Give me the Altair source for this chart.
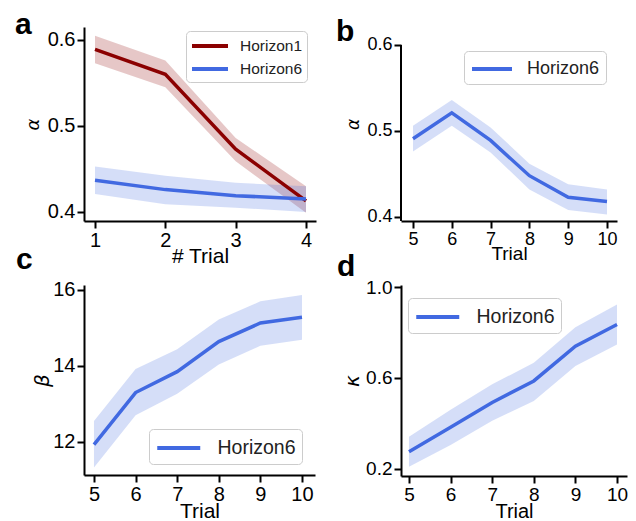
import altair as alt
import pandas as pd

# ---------------- data ----------------
trials_a = [1, 2, 3, 4]
h1_mean = [0.589, 0.560, 0.473, 0.413]
h1_lo = [0.573, 0.545, 0.459, 0.399]
h1_hi = [0.605, 0.576, 0.486, 0.430]
h6a_mean = [0.437, 0.426, 0.419, 0.415]
h6a_lo = [0.421, 0.409, 0.405, 0.400]
h6a_hi = [0.453, 0.442, 0.434, 0.430]

trials_b = [5, 6, 7, 8, 9, 10]
alpha_mean = [0.491, 0.521, 0.489, 0.448, 0.423, 0.418]
alpha_lo = [0.476, 0.506, 0.475, 0.432, 0.408, 0.403]
alpha_hi = [0.506, 0.536, 0.504, 0.462, 0.438, 0.432]

beta_mean = [11.93, 13.30, 13.85, 14.64, 15.13, 15.28]
beta_lo = [11.33, 12.70, 13.27, 14.04, 14.53, 14.69]
beta_hi = [12.55, 13.92, 14.44, 15.22, 15.70, 15.87]

kappa_mean = [0.276, 0.383, 0.492, 0.587, 0.740, 0.835]
kappa_lo = [0.210, 0.305, 0.412, 0.499, 0.653, 0.747]
kappa_hi = [0.342, 0.460, 0.572, 0.667, 0.823, 0.923]

RED = "#8b0000"
BLUE = "#4169e1"
FONT = "Liberation Sans"
LEG_PATH = "M-1,0H3"   # horizontal legend line, 2x the entry width


def frame(trials, mean, lo, hi, series):
    return pd.DataFrame({"trial": trials, "mean": mean, "lo": lo, "hi": hi,
                         "series": series})


df_a = pd.concat([
    frame(trials_a, h1_mean, h1_lo, h1_hi, "Horizon1"),
    frame(trials_a, h6a_mean, h6a_lo, h6a_hi, "Horizon6"),
])
df_b = frame(trials_b, alpha_mean, alpha_lo, alpha_hi, "Horizon6")
df_c = frame(trials_b, beta_mean, beta_lo, beta_hi, "Horizon6")
df_d = frame(trials_b, kappa_mean, kappa_lo, kappa_hi, "Horizon6")


def panel(df, domain, rng, xdom, xticks, xtitle, ydom, yticks, yfmt, ytitle,
          w, h, tick_fs, xtitle_fs, xtitle_pad, ytitle_fs, ytitle_pad,
          leg, letter, letter_xy, hide_ydomain=False):
    xs = alt.Scale(domain=xdom, nice=False, zero=False)
    ys = alt.Scale(domain=ydom, nice=False, zero=False)
    xaxis = alt.Axis(values=xticks, format="d", title=xtitle, grid=False,
                     labelFont=FONT, labelFontSize=tick_fs, labelColor="black",
                     labelPadding=2, tickSize=7, tickWidth=2, tickColor="black",
                     domainColor="black", domainWidth=2,
                     titleFont=FONT, titleFontSize=xtitle_fs, titleFontWeight="normal",
                     titleColor="black", titlePadding=xtitle_pad)
    yaxis = alt.Axis(values=yticks, format=yfmt, title=ytitle, grid=False,
                     labelFont=FONT, labelFontSize=tick_fs, labelColor="black",
                     labelPadding=2, tickSize=7, tickWidth=2, tickColor="black",
                     domain=not hide_ydomain, domainColor="black", domainWidth=2,
                     titleFont="DejaVu Sans", titleFontSize=ytitle_fs,
                     titleFontWeight="normal", titleFontStyle="italic",
                     titleColor="black", titlePadding=ytitle_pad)
    base = alt.Chart(df)
    layers = []
    for name, col in zip(domain, rng):
        layers.append(
            base.transform_filter(alt.datum.series == name)
            .mark_area(color=col, fillOpacity=0.22, strokeOpacity=0.35, strokeWidth=1)
            .encode(
                x=alt.X("trial:Q", scale=xs, axis=xaxis),
                y=alt.Y("lo:Q", scale=ys, axis=yaxis),
                y2="hi:Q",
            )
        )
    r = leg["len"] / 4.0
    line = base.mark_line(strokeWidth=3.5).encode(
        x=alt.X("trial:Q", scale=xs, axis=xaxis),
        y=alt.Y("mean:Q", scale=ys, axis=yaxis),
        color=alt.Color("series:N", scale=alt.Scale(domain=domain, range=rng),
                        legend=alt.Legend(
                            orient="none", legendX=leg["x"], legendY=leg["y"],
                            symbolType=LEG_PATH, symbolSize=(2 * r) ** 2,
                            symbolStrokeWidth=4, labelFont=FONT,
                            labelFontSize=leg["fs"], labelColor="#222222",
                            labelOffset=leg["len"] + leg["gap"] - 2 * r,
                            padding=leg["pad"],
                            rowPadding=leg.get("row", 5),
                            strokeColor="#cccccc", fillColor="white",
                            cornerRadius=4)),
    )
    layers.append(line)
    if hide_ydomain:
        axis_line = alt.Chart(alt.Data(values=[{"k": 0}])).mark_rule(
            color="black", strokeWidth=2
        ).encode(x=alt.value(0), y=alt.Y(datum=yticks[-1], scale=ys), y2=alt.value(h))
        layers.append(axis_line)
    letter_mark = alt.Chart(alt.Data(values=[{"k": letter}])).mark_text(
        text=letter, font=FONT, fontSize=30, fontWeight="bold", color="black",
        align="left", baseline="alphabetic",
    ).encode(x=alt.value(letter_xy[0]), y=alt.value(letter_xy[1]))
    layers.append(letter_mark)
    return alt.layer(*layers).properties(width=w, height=h)


pa = panel(df_a, ["Horizon1", "Horizon6"], [RED, BLUE], [0.8436, 4.142], [1, 2, 3, 4], "# Trial",
           [0.3895, 0.6151], [0.4, 0.5, 0.6], ".1f", "α",
           232, 194, 20, 21, -5, 18, 5,
           {"x": 102, "y": 4, "len": 36, "gap": 10, "fs": 15.5, "pad": 4, "row": 3},
           "a", (-69, 7))
pb = panel(df_b, ["Horizon6"], [BLUE], [4.691, 10.258], trials_b, "Trial",
           [0.3953, 0.6209], [0.4, 0.5, 0.6], ".1f", "α",
           216, 194, 18, 19, -4, 17, 4,
           {"x": 63, "y": 24, "len": 40, "gap": 13, "fs": 18, "pad": 6},
           "b", (-65, 14), hide_ydomain=True)
pc = panel(df_c, ["Horizon6"], [BLUE], [4.76, 10.3125], trials_b, "Trial",
           [11.13, 16.13], [12, 14, 16], "d", "β",
           231, 190, 20, 21, -4, 20, 0,
           {"x": 65, "y": 144, "len": 43, "gap": 15, "fs": 19.5, "pad": 6},
           "c", (-68, -16))
pd_ = panel(df_d, ["Horizon6"], [BLUE], [4.808, 10.24], trials_b, "Trial",
            [0.169, 1.0088], [0.2, 0.6, 1.0], ".1f", "κ",
            226, 191, 19, 20, -3, 20, 3,
            {"x": 7, "y": 13, "len": 43, "gap": 15, "fs": 19.5, "pad": 6},
            "d", (-64, -9))

chart = alt.concat(pa, pb, pc, pd_, columns=2,
                   spacing=alt.RowColnumber(row=64, column=85)).resolve_scale(
    color="independent", x="independent", y="independent"
).resolve_legend(color="independent").properties(
    bounds="flush",
    padding={"left": 7, "top": 2, "right": 0, "bottom": 0},
).configure_view(stroke=None).configure_legend(title=None)

chart.save("out.html", embed_options={"renderer": "svg", "actions": False})
